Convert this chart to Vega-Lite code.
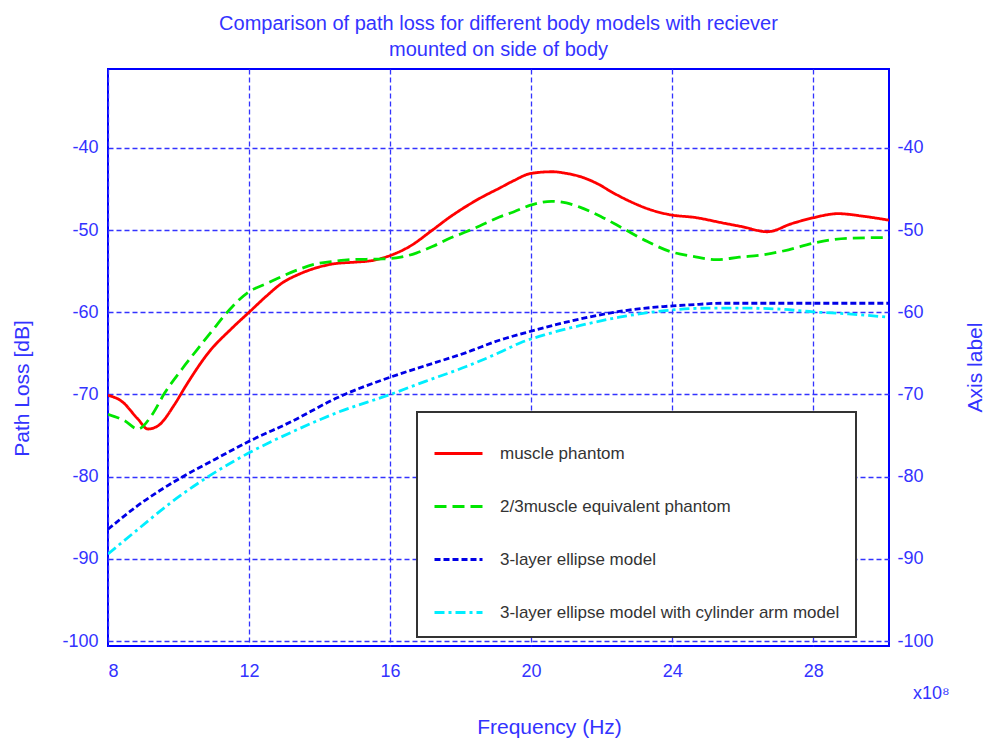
{
  "$schema": "https://vega.github.io/schema/vega-lite/v6.json",
  "width": 781,
  "height": 577,
  "autosize": {"type": "none"},
  "padding": {"left": 108, "top": 69, "right": 111, "bottom": 101},
  "background": "white",
  "config": {
    "font": "Liberation Sans",
    "view": {"stroke": "#0000ff", "strokeWidth": 2},
    "legend": {"strokeWidth": 2}
  },
  "title": {
    "text": ["Comparison of path loss for different body models with reciever", "mounted on side of body"],
    "fontSize": 20,
    "fontWeight": "normal",
    "color": "#3333ff",
    "anchor": "middle",
    "offset": 9,
    "lineHeight": 26,
    "font": "Liberation Sans"
  },
  "datasets": {
    "curves": [
      {"f": 8.0, "loss": -70.1, "model": "muscle phantom"},
      {"f": 8.38, "loss": -70.8, "model": "muscle phantom"},
      {"f": 8.85, "loss": -73.0, "model": "muscle phantom"},
      {"f": 9.13, "loss": -74.2, "model": "muscle phantom"},
      {"f": 9.42, "loss": -73.8, "model": "muscle phantom"},
      {"f": 9.89, "loss": -71.2, "model": "muscle phantom"},
      {"f": 10.2, "loss": -69.0, "model": "muscle phantom"},
      {"f": 10.87, "loss": -64.8, "model": "muscle phantom"},
      {"f": 11.5, "loss": -62.0, "model": "muscle phantom"},
      {"f": 12.0, "loss": -60.0, "model": "muscle phantom"},
      {"f": 12.5, "loss": -58.0, "model": "muscle phantom"},
      {"f": 12.95, "loss": -56.4, "model": "muscle phantom"},
      {"f": 13.4, "loss": -55.4, "model": "muscle phantom"},
      {"f": 13.9, "loss": -54.6, "model": "muscle phantom"},
      {"f": 14.4, "loss": -54.1, "model": "muscle phantom"},
      {"f": 15.0, "loss": -53.9, "model": "muscle phantom"},
      {"f": 15.5, "loss": -53.7, "model": "muscle phantom"},
      {"f": 16.0, "loss": -53.1, "model": "muscle phantom"},
      {"f": 16.55, "loss": -52.0, "model": "muscle phantom"},
      {"f": 17.2, "loss": -50.0, "model": "muscle phantom"},
      {"f": 17.7, "loss": -48.4, "model": "muscle phantom"},
      {"f": 18.2, "loss": -47.0, "model": "muscle phantom"},
      {"f": 18.6, "loss": -46.0, "model": "muscle phantom"},
      {"f": 19.1, "loss": -44.9, "model": "muscle phantom"},
      {"f": 19.5, "loss": -44.0, "model": "muscle phantom"},
      {"f": 20.0, "loss": -43.1, "model": "muscle phantom"},
      {"f": 20.6, "loss": -42.9, "model": "muscle phantom"},
      {"f": 21.0, "loss": -43.1, "model": "muscle phantom"},
      {"f": 21.4, "loss": -43.5, "model": "muscle phantom"},
      {"f": 21.9, "loss": -44.4, "model": "muscle phantom"},
      {"f": 22.3, "loss": -45.4, "model": "muscle phantom"},
      {"f": 22.8, "loss": -46.5, "model": "muscle phantom"},
      {"f": 23.3, "loss": -47.4, "model": "muscle phantom"},
      {"f": 23.9, "loss": -48.1, "model": "muscle phantom"},
      {"f": 24.7, "loss": -48.5, "model": "muscle phantom"},
      {"f": 25.4, "loss": -49.1, "model": "muscle phantom"},
      {"f": 26.0, "loss": -49.6, "model": "muscle phantom"},
      {"f": 26.7, "loss": -50.2, "model": "muscle phantom"},
      {"f": 27.4, "loss": -49.2, "model": "muscle phantom"},
      {"f": 28.0, "loss": -48.5, "model": "muscle phantom"},
      {"f": 28.7, "loss": -48.0, "model": "muscle phantom"},
      {"f": 29.4, "loss": -48.3, "model": "muscle phantom"},
      {"f": 30.15, "loss": -48.8, "model": "muscle phantom"},

      {"f": 8.0, "loss": -72.4, "model": "2/3muscle equivalent phantom"},
      {"f": 8.47, "loss": -73.2, "model": "2/3muscle equivalent phantom"},
      {"f": 8.85, "loss": -74.2, "model": "2/3muscle equivalent phantom"},
      {"f": 9.23, "loss": -72.6, "model": "2/3muscle equivalent phantom"},
      {"f": 9.61, "loss": -69.8, "model": "2/3muscle equivalent phantom"},
      {"f": 10.1, "loss": -66.9, "model": "2/3muscle equivalent phantom"},
      {"f": 10.59, "loss": -64.2, "model": "2/3muscle equivalent phantom"},
      {"f": 11.0, "loss": -62.0, "model": "2/3muscle equivalent phantom"},
      {"f": 11.34, "loss": -60.2, "model": "2/3muscle equivalent phantom"},
      {"f": 12.0, "loss": -57.5, "model": "2/3muscle equivalent phantom"},
      {"f": 12.5, "loss": -56.5, "model": "2/3muscle equivalent phantom"},
      {"f": 12.95, "loss": -55.6, "model": "2/3muscle equivalent phantom"},
      {"f": 13.4, "loss": -54.8, "model": "2/3muscle equivalent phantom"},
      {"f": 13.9, "loss": -54.1, "model": "2/3muscle equivalent phantom"},
      {"f": 14.4, "loss": -53.8, "model": "2/3muscle equivalent phantom"},
      {"f": 14.85, "loss": -53.6, "model": "2/3muscle equivalent phantom"},
      {"f": 15.8, "loss": -53.5, "model": "2/3muscle equivalent phantom"},
      {"f": 16.3, "loss": -53.3, "model": "2/3muscle equivalent phantom"},
      {"f": 16.74, "loss": -52.8, "model": "2/3muscle equivalent phantom"},
      {"f": 17.2, "loss": -52.0, "model": "2/3muscle equivalent phantom"},
      {"f": 17.69, "loss": -51.0, "model": "2/3muscle equivalent phantom"},
      {"f": 18.1, "loss": -50.3, "model": "2/3muscle equivalent phantom"},
      {"f": 18.54, "loss": -49.5, "model": "2/3muscle equivalent phantom"},
      {"f": 19.1, "loss": -48.4, "model": "2/3muscle equivalent phantom"},
      {"f": 19.5, "loss": -47.8, "model": "2/3muscle equivalent phantom"},
      {"f": 19.96, "loss": -47.0, "model": "2/3muscle equivalent phantom"},
      {"f": 20.58, "loss": -46.5, "model": "2/3muscle equivalent phantom"},
      {"f": 21.0, "loss": -46.7, "model": "2/3muscle equivalent phantom"},
      {"f": 21.38, "loss": -47.2, "model": "2/3muscle equivalent phantom"},
      {"f": 22.0, "loss": -48.4, "model": "2/3muscle equivalent phantom"},
      {"f": 22.61, "loss": -49.8, "model": "2/3muscle equivalent phantom"},
      {"f": 23.3, "loss": -51.4, "model": "2/3muscle equivalent phantom"},
      {"f": 23.94, "loss": -52.6, "model": "2/3muscle equivalent phantom"},
      {"f": 24.6, "loss": -53.2, "model": "2/3muscle equivalent phantom"},
      {"f": 25.26, "loss": -53.6, "model": "2/3muscle equivalent phantom"},
      {"f": 25.9, "loss": -53.3, "model": "2/3muscle equivalent phantom"},
      {"f": 26.59, "loss": -53.0, "model": "2/3muscle equivalent phantom"},
      {"f": 27.3, "loss": -52.4, "model": "2/3muscle equivalent phantom"},
      {"f": 28.0, "loss": -51.6, "model": "2/3muscle equivalent phantom"},
      {"f": 28.96, "loss": -51.0, "model": "2/3muscle equivalent phantom"},
      {"f": 30.15, "loss": -50.9, "model": "2/3muscle equivalent phantom"},

      {"f": 8.0, "loss": -86.4, "model": "3-layer ellipse model"},
      {"f": 8.85, "loss": -83.5, "model": "3-layer ellipse model"},
      {"f": 10.08, "loss": -80.1, "model": "3-layer ellipse model"},
      {"f": 11.03, "loss": -77.9, "model": "3-layer ellipse model"},
      {"f": 12.0, "loss": -75.7, "model": "3-layer ellipse model"},
      {"f": 13.2, "loss": -73.3, "model": "3-layer ellipse model"},
      {"f": 14.5, "loss": -70.4, "model": "3-layer ellipse model"},
      {"f": 16.0, "loss": -67.9, "model": "3-layer ellipse model"},
      {"f": 17.0, "loss": -66.5, "model": "3-layer ellipse model"},
      {"f": 18.16, "loss": -64.9, "model": "3-layer ellipse model"},
      {"f": 19.1, "loss": -63.4, "model": "3-layer ellipse model"},
      {"f": 20.0, "loss": -62.3, "model": "3-layer ellipse model"},
      {"f": 20.7, "loss": -61.5, "model": "3-layer ellipse model"},
      {"f": 21.4, "loss": -60.8, "model": "3-layer ellipse model"},
      {"f": 22.5, "loss": -59.9, "model": "3-layer ellipse model"},
      {"f": 23.75, "loss": -59.3, "model": "3-layer ellipse model"},
      {"f": 24.5, "loss": -59.1, "model": "3-layer ellipse model"},
      {"f": 25.4, "loss": -58.9, "model": "3-layer ellipse model"},
      {"f": 27.0, "loss": -58.9, "model": "3-layer ellipse model"},
      {"f": 28.5, "loss": -58.9, "model": "3-layer ellipse model"},
      {"f": 30.15, "loss": -58.9, "model": "3-layer ellipse model"},

      {"f": 8.0, "loss": -89.4, "model": "3-layer ellipse model with cylinder arm model"},
      {"f": 8.85, "loss": -86.4, "model": "3-layer ellipse model with cylinder arm model"},
      {"f": 9.8, "loss": -83.1, "model": "3-layer ellipse model with cylinder arm model"},
      {"f": 10.84, "loss": -80.0, "model": "3-layer ellipse model with cylinder arm model"},
      {"f": 12.0, "loss": -77.1, "model": "3-layer ellipse model with cylinder arm model"},
      {"f": 13.2, "loss": -74.6, "model": "3-layer ellipse model with cylinder arm model"},
      {"f": 14.5, "loss": -72.2, "model": "3-layer ellipse model with cylinder arm model"},
      {"f": 16.0, "loss": -70.0, "model": "3-layer ellipse model with cylinder arm model"},
      {"f": 17.0, "loss": -68.4, "model": "3-layer ellipse model with cylinder arm model"},
      {"f": 18.16, "loss": -66.6, "model": "3-layer ellipse model with cylinder arm model"},
      {"f": 19.1, "loss": -64.9, "model": "3-layer ellipse model with cylinder arm model"},
      {"f": 19.7, "loss": -63.7, "model": "3-layer ellipse model with cylinder arm model"},
      {"f": 20.5, "loss": -62.6, "model": "3-layer ellipse model with cylinder arm model"},
      {"f": 21.4, "loss": -61.6, "model": "3-layer ellipse model with cylinder arm model"},
      {"f": 22.5, "loss": -60.6, "model": "3-layer ellipse model with cylinder arm model"},
      {"f": 23.8, "loss": -59.8, "model": "3-layer ellipse model with cylinder arm model"},
      {"f": 25.0, "loss": -59.5, "model": "3-layer ellipse model with cylinder arm model"},
      {"f": 26.1, "loss": -59.5, "model": "3-layer ellipse model with cylinder arm model"},
      {"f": 27.0, "loss": -59.6, "model": "3-layer ellipse model with cylinder arm model"},
      {"f": 28.0, "loss": -59.95, "model": "3-layer ellipse model with cylinder arm model"},
      {"f": 29.0, "loss": -60.2, "model": "3-layer ellipse model with cylinder arm model"},
      {"f": 30.15, "loss": -60.6, "model": "3-layer ellipse model with cylinder arm model"}
    ],
    "note": [{"f": 30.15, "loss": -100.6, "label": "x10⁸"}]
  },
  "layer": [
    {
      "data": {"name": "curves"},
      "mark": {"type": "line", "interpolate": "monotone", "strokeWidth": 2.8, "clip": true},
      "encoding": {
        "x": {
          "field": "f", "type": "quantitative",
          "scale": {"domain": [8, 30.15], "nice": false, "zero": false},
          "axis": {
            "title": "Frequency (Hz)", "values": [8, 12, 16, 20, 24, 28],
            "grid": true, "gridDash": [5, 3], "gridColor": "#3333ff", "gridWidth": 1.3, "gridOpacity": 1,
            "domain": false, "ticks": false, "labelExpr": "datum.value + ''",
            "labelColor": "#3333ff", "labelFontSize": 18, "labelPadding": 16, "labelFont": "Liberation Sans",
            "titleColor": "#3333ff", "titleFontSize": 21, "titleFontWeight": "normal", "titleFont": "Liberation Sans",
            "titleX": 441, "titleY": 81, "titleAlign": "center", "titleBaseline": "middle", "titleAnchor": null
          }
        },
        "y": {
          "field": "loss", "type": "quantitative",
          "scale": {"domain": [-100.6, -30.4], "nice": false, "zero": false},
          "axis": {
            "title": "Path Loss [dB]", "values": [-100, -90, -80, -70, -60, -50, -40],
            "grid": true, "gridDash": [5, 3], "gridColor": "#3333ff", "gridWidth": 1.3, "gridOpacity": 1,
            "domain": false, "ticks": false, "labelExpr": "datum.value + ''",
            "labelColor": "#3333ff", "labelFontSize": 18, "labelPadding": 10, "labelFont": "Liberation Sans",
            "titleColor": "#3333ff", "titleFontSize": 21, "titleFontWeight": "normal", "titleFont": "Liberation Sans",
            "titleX": -86, "titleY": 319, "titleAngle": -90, "titleAlign": "center", "titleBaseline": "middle", "titleAnchor": null
          }
        },
        "color": {
          "field": "model", "type": "nominal",
          "scale": {
            "domain": ["muscle phantom", "2/3muscle equivalent phantom", "3-layer ellipse model", "3-layer ellipse model with cylinder arm model"],
            "range": ["#ff0000", "#00e600", "#0000e6", "#00eeff"]
          },
          "legend": {
            "title": null, "orient": "none", "legendX": 309, "legendY": 343,
            "symbolType": "stroke", "symbolSize": 2304, "symbolStrokeWidth": 2.8,
            "labelFontSize": 17, "labelColor": "#333333", "labelOffset": 16, "labelLimit": 600, "labelFont": "Liberation Sans",
            "rowPadding": 19, "padding": 16, "strokeColor": "#333333", "fillColor": "#ffffff"
          }
        },
        "strokeDash": {
          "field": "model", "type": "nominal",
          "scale": {
            "domain": ["muscle phantom", "2/3muscle equivalent phantom", "3-layer ellipse model", "3-layer ellipse model with cylinder arm model"],
            "range": [[1, 0], [12, 6], [6, 3], [10, 4, 3, 4]]
          },
          "legend": {
            "title": null, "orient": "none", "legendX": 309, "legendY": 343,
            "symbolType": "stroke", "symbolSize": 2304, "symbolStrokeWidth": 2.8,
            "labelFontSize": 17, "labelColor": "#333333", "labelOffset": 16, "labelLimit": 600, "labelFont": "Liberation Sans",
            "rowPadding": 19, "padding": 16, "strokeColor": "#333333", "fillColor": "#ffffff"
          }
        }
      }
    },
    {
      "data": {"name": "note"},
      "mark": {"type": "text", "align": "left", "baseline": "middle", "dx": 24, "dy": 48, "fontSize": 18, "color": "#3333ff", "font": "Liberation Sans"},
      "encoding": {
        "x": {
          "field": "f", "type": "quantitative",
          "scale": {"domain": [8, 30.15], "nice": false, "zero": false},
          "axis": {
            "title": "Frequency (Hz)", "values": [8, 12, 16, 20, 24, 28],
            "grid": true, "gridDash": [5, 3], "gridColor": "#3333ff", "gridWidth": 1.3, "gridOpacity": 1,
            "domain": false, "ticks": false, "labelExpr": "datum.value + ''",
            "labelColor": "#3333ff", "labelFontSize": 18, "labelPadding": 16, "labelFont": "Liberation Sans",
            "titleColor": "#3333ff", "titleFontSize": 21, "titleFontWeight": "normal", "titleFont": "Liberation Sans",
            "titleX": 441, "titleY": 81, "titleAlign": "center", "titleBaseline": "middle", "titleAnchor": null
          }
        },
        "y": {
          "field": "loss", "type": "quantitative",
          "scale": {"domain": [-100.6, -30.4], "nice": false, "zero": false},
          "axis": {
            "orient": "right", "title": "Axis label", "values": [-100, -90, -80, -70, -60, -50, -40],
            "grid": false, "domain": false, "ticks": false, "labelExpr": "datum.value + ''",
            "labelColor": "#3333ff", "labelFontSize": 18, "labelPadding": 8, "labelFont": "Liberation Sans",
            "titleColor": "#3333ff", "titleFontSize": 21, "titleFontWeight": "normal", "titleFont": "Liberation Sans",
            "titleX": 86, "titleY": 298, "titleAngle": -90, "titleAlign": "center", "titleBaseline": "middle", "titleAnchor": null
          }
        },
        "text": {"field": "label", "type": "nominal"}
      }
    }
  ],
  "resolve": {"axis": {"y": "independent"}}
}
